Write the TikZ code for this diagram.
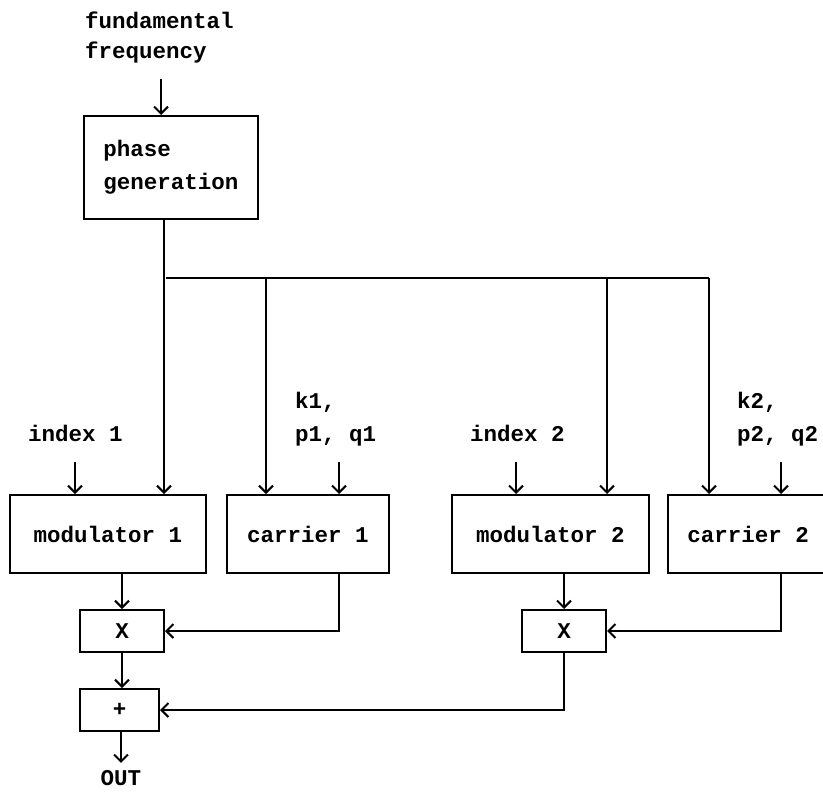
\documentclass[tikz,border=0pt]{standalone}
\usepackage{fontspec}
\setmonofont{Liberation Mono}
\usetikzlibrary{arrows.meta,calc}

\begin{document}
\begin{tikzpicture}[
  x=0.5pt, y=-0.5pt,
  font=\ttfamily\bfseries\fontsize{11.25}{16.5}\selectfont,
  >={Straight Barb[length=3.5pt,width=7pt]}, line width=1pt,
  block/.style={draw, inner sep=0pt, align=left, minimum height=39pt},
  small/.style={draw, inner sep=0pt, minimum width=42pt, minimum height=21pt},
  inlab/.style={inner sep=0pt, anchor=west, align=left},
  arr/.style={->}]
\clip (0,0) rectangle (823,791);
% ---------- source and phase
\node[inlab, font=\ttfamily\bfseries\fontsize{11.25}{15}\selectfont] (fund) at (84,38) {fundamental\\frequency};
\node[block, minimum width=87pt, minimum height=51.5pt] (phase) at (171,167.5) {phase\\generation};
% ---------- operators
\node[block, minimum width=98pt] (mod1) at (108,534) {modulator 1};
\node[block, minimum width=81pt] (car1) at (308,534) {carrier 1};
\node[block, minimum width=98.5pt] (mod2) at (550.5,534) {modulator 2};
\node[block, minimum width=80pt] (car2) at (748,534) {carrier 2};
% ---------- parameters
\node[inlab] (ind1) at (27,433) {index 1};
\node[inlab] (par1) at (294,419) {k1,\\p1, q1};
\node[inlab] (ind2) at (469,433) {index 2};
\node[inlab] (par2) at (736,419) {k2,\\p2, q2};
% ---------- product and sum
\node[small] (x1) at (122,631) {X};
\node[small] (x2) at (564,631) {X};
\node[small, minimum width=39.5pt] (plus) at (119.5,710) {+};
\node[inner sep=0pt, anchor=base] (out) at (121,785) {OUT};
% ---------- entry points
\coordinate (phin) at ($(phase.north west)+(78,0)$);
\coordinate (m1a) at ($(mod1.north west)+(66,0)$);
\coordinate (m1b) at ($(mod1.north east)+(-43,0)$);
\coordinate (c1a) at ($(car1.north west)+(40,0)$);
\coordinate (c1b) at ($(car1.north west)+(113,0)$);
\coordinate (m2a) at ($(mod2.north west)+(65,0)$);
\coordinate (m2b) at ($(mod2.north east)+(-43,0)$);
\coordinate (c2a) at ($(car2.north west)+(42,0)$);
\coordinate (c2b) at ($(car2.north west)+(114,0)$);
\coordinate (bus) at (166,278);
% ---------- edges
\draw[arr, shorten <=7pt] (fund.south -| phin) -- (phin);
\draw[arr] (phase.south -| m1b) -- (m1b);
\draw (bus) -- (bus -| c2a);
\draw[arr] (bus -| c1a) -- (c1a);
\draw[arr] (bus -| m2b) -- (m2b);
\draw[arr] (bus -| c2a) -- (c2a);
\draw[arr, shorten <=10pt] (ind1.south -| m1a) -- (m1a);
\draw[arr, shorten <=7.5pt] (par1.south -| c1b) -- (c1b);
\draw[arr, shorten <=10pt] (ind2.south -| m2a) -- (m2a);
\draw[arr, shorten <=7.5pt] (par2.south -| c2b) -- (c2b);
\draw[arr] (x1.north |- mod1.south) -- (x1.north);
\draw[arr] (x2.north |- mod2.south) -- (x2.north);
\draw[arr] (c1b |- car1.south) |- (x1.east);
\draw[arr] (c2b |- car2.south) |- (x2.east);
\draw[arr] (x1.south) -- (x1.south |- plus.north);
\draw[arr] (x2.south) |- (plus.east);
\draw[arr, shorten >=3pt] (plus.south -| out) -- (out.north);
\end{tikzpicture}
\end{document}
